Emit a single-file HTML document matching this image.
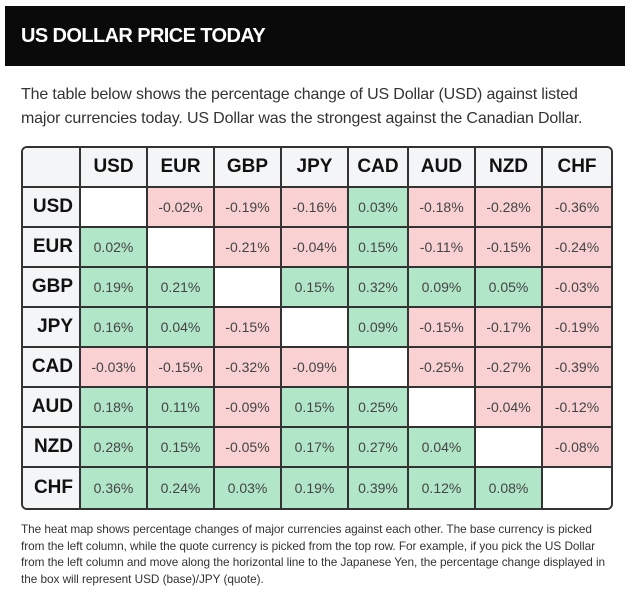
<!DOCTYPE html>
<html><head><style>
body{margin:0;width:632px;height:594px;background:#fff;font-family:"Liberation Sans",sans-serif;position:relative;overflow:hidden}
.hd{position:absolute;left:5px;top:6px;width:620px;height:60px;background:#0a0a0a;color:#fff;font-weight:bold;font-size:20px;line-height:60px;padding-left:16px;box-sizing:border-box;letter-spacing:-0.6px}
.p{position:absolute;left:21px;top:83px;width:610px;font-size:16px;line-height:24px;color:#333;letter-spacing:-0.15px;white-space:nowrap}
table{position:absolute;left:21px;top:146px;border-collapse:separate;border-spacing:0;border:2px solid #333;border-radius:6px;overflow:hidden;table-layout:fixed;width:588px}
td{border-right:2px solid #333;border-bottom:2px solid #333;height:40px;text-align:center;font-size:14px;color:#444;padding:0;box-sizing:border-box}
td:last-child{border-right:none}
tr:last-child td{border-bottom:none}
tr:first-child td,td:first-child{background:#f4f5f7;font-weight:bold;font-size:19px;color:#111}
td:first-child{text-align:right;padding-right:6px}
.g{background:#b1e6c8}.r{background:#f9d1d2}.w{background:#fff}
.f{position:absolute;left:21px;top:521px;width:610px;font-size:11.8px;line-height:16.5px;color:#333;letter-spacing:-0.05px;white-space:nowrap}
</style></head><body>
<div class="hd">US DOLLAR PRICE TODAY</div>
<div class="p">The table below shows the percentage change of US Dollar (USD) against listed<br>major currencies today. US Dollar was the strongest against the Canadian Dollar.</div>
<table>
<colgroup><col style="width:58px"><col style="width:67px"><col style="width:67px"><col style="width:67px"><col style="width:67px"><col style="width:60px"><col style="width:67px"><col style="width:67px"><col style="width:68px"></colgroup>
<tr><td></td><td>USD</td><td>EUR</td><td>GBP</td><td>JPY</td><td>CAD</td><td>AUD</td><td>NZD</td><td>CHF</td></tr>
<tr><td>USD</td><td class="w"></td><td class="r">-0.02%</td><td class="r">-0.19%</td><td class="r">-0.16%</td><td class="g">0.03%</td><td class="r">-0.18%</td><td class="r">-0.28%</td><td class="r">-0.36%</td></tr>
<tr><td>EUR</td><td class="g">0.02%</td><td class="w"></td><td class="r">-0.21%</td><td class="r">-0.04%</td><td class="g">0.15%</td><td class="r">-0.11%</td><td class="r">-0.15%</td><td class="r">-0.24%</td></tr>
<tr><td>GBP</td><td class="g">0.19%</td><td class="g">0.21%</td><td class="w"></td><td class="g">0.15%</td><td class="g">0.32%</td><td class="g">0.09%</td><td class="g">0.05%</td><td class="r">-0.03%</td></tr>
<tr><td>JPY</td><td class="g">0.16%</td><td class="g">0.04%</td><td class="r">-0.15%</td><td class="w"></td><td class="g">0.09%</td><td class="r">-0.15%</td><td class="r">-0.17%</td><td class="r">-0.19%</td></tr>
<tr><td>CAD</td><td class="r">-0.03%</td><td class="r">-0.15%</td><td class="r">-0.32%</td><td class="r">-0.09%</td><td class="w"></td><td class="r">-0.25%</td><td class="r">-0.27%</td><td class="r">-0.39%</td></tr>
<tr><td>AUD</td><td class="g">0.18%</td><td class="g">0.11%</td><td class="r">-0.09%</td><td class="g">0.15%</td><td class="g">0.25%</td><td class="w"></td><td class="r">-0.04%</td><td class="r">-0.12%</td></tr>
<tr><td>NZD</td><td class="g">0.28%</td><td class="g">0.15%</td><td class="r">-0.05%</td><td class="g">0.17%</td><td class="g">0.27%</td><td class="g">0.04%</td><td class="w"></td><td class="r">-0.08%</td></tr>
<tr><td>CHF</td><td class="g">0.36%</td><td class="g">0.24%</td><td class="g">0.03%</td><td class="g">0.19%</td><td class="g">0.39%</td><td class="g">0.12%</td><td class="g">0.08%</td><td class="w"></td></tr>
</table>
<div class="f">The heat map shows percentage changes of major currencies against each other. The base currency is picked<br>from the left column, while the quote currency is picked from the top row. For example, if you pick the US Dollar<br>from the left column and move along the horizontal line to the Japanese Yen, the percentage change displayed in<br>the box will represent USD (base)/JPY (quote).</div>
</body></html>
